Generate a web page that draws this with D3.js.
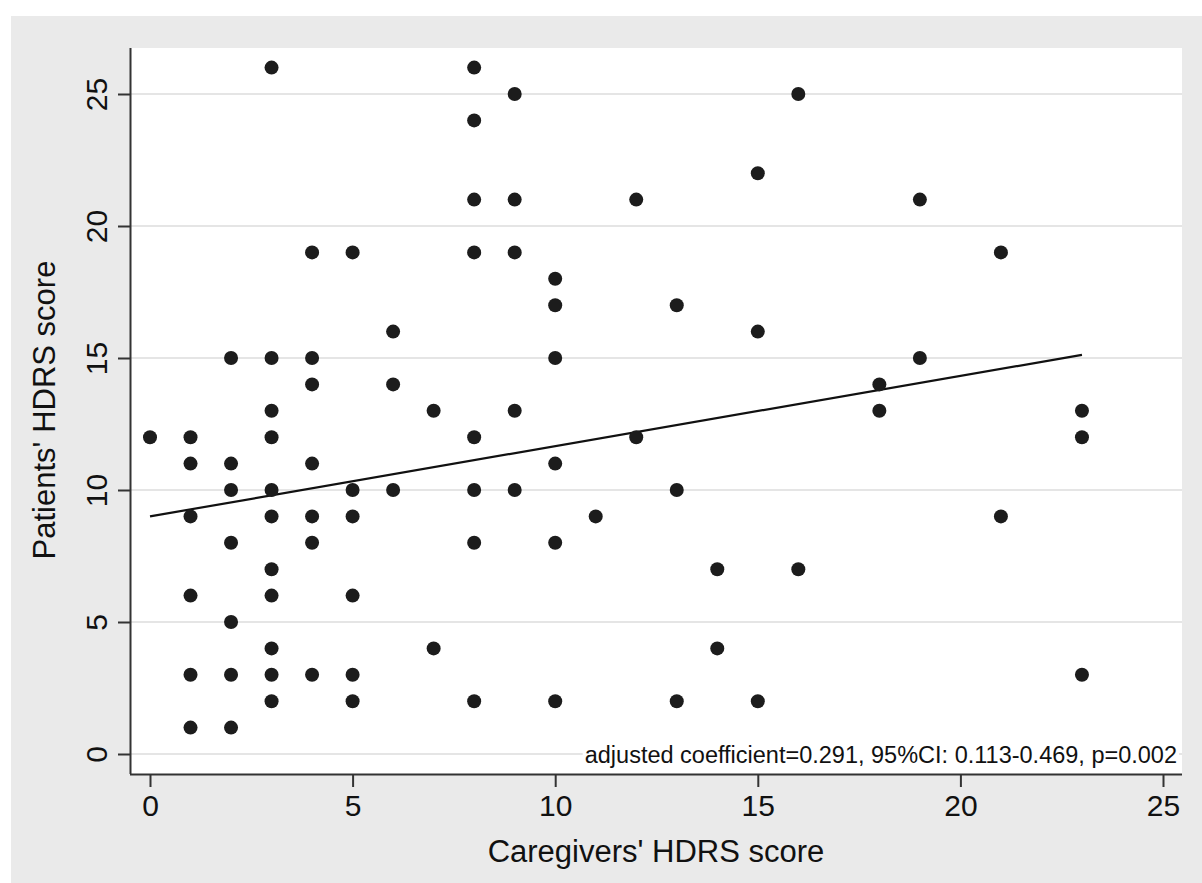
<!DOCTYPE html>
<html>
<head>
<meta charset="utf-8">
<script src="https://cdn.jsdelivr.net/npm/d3@7"></script>
<style>
  body { margin: 0; background: #fff; }
  svg { display: block; font-family: Arial, "Liberation Sans", sans-serif; }
</style>
</head>
<body>
<figure style="margin:0"></figure>
<script>
const width = 1202
const height = 883

// caregivers' score (x) and patients' score (y)
const caregivers = [0,
  1, 1, 1, 1, 1, 1,
  2, 2, 2, 2, 2, 2, 2,
  3, 3, 3, 3, 3, 3, 3, 3, 3, 3, 3,
  4, 4, 4, 4, 4, 4, 4,
  5, 5, 5, 5, 5, 5,
  6, 6, 6,
  7, 7,
  8, 8, 8, 8, 8, 8, 8, 8,
  9, 9, 9, 9, 9,
  10, 10, 10, 10, 10, 10,
  11,
  12, 12,
  13, 13, 13,
  14, 14,
  15, 15, 15,
  16, 16,
  18, 18,
  19, 19,
  21, 21,
  23, 23, 23]
const patients = [12,
  12, 11, 9, 6, 3, 1,
  15, 11, 10, 8, 5, 3, 1,
  26, 15, 13, 12, 10, 9, 7, 6, 4, 3, 2,
  19, 15, 14, 11, 9, 8, 3,
  19, 10, 9, 6, 3, 2,
  16, 14, 10,
  13, 4,
  26, 24, 21, 19, 12, 10, 8, 2,
  25, 21, 19, 13, 10,
  18, 17, 15, 11, 8, 2,
  9,
  21, 12,
  17, 10, 2,
  7, 4,
  22, 16, 2,
  25, 7,
  14, 13,
  21, 15,
  19, 9,
  13, 12, 3]

const xTicks = [0, 5, 10, 15, 20, 25]
const yTicks = [0, 5, 10, 15, 20, 25]

// fitted line
const fitX = [0, 23]
const fitY = [9.0, 15.12]

const note = 'adjusted coefficient=0.291, 95%CI: 0.113-0.469, p=0.002'

const points = caregivers.map((c, i) => ({ x: c, y: patients[i] }))

const plot = { left: 130, right: 1182, top: 48, bottom: 774 }

const svg = d3.select('figure').append('svg')
  .attr('width', width)
  .attr('height', height)

// outer grey panel
svg.append('rect')
  .attr('x', 11).attr('y', 16)
  .attr('width', width - 11).attr('height', height - 16)
  .attr('fill', '#eaeaea')

// plot region
svg.append('rect')
  .attr('x', plot.left).attr('y', plot.top)
  .attr('width', plot.right - plot.left).attr('height', plot.bottom - plot.top)
  .attr('fill', '#fff')

const x = d3.scaleLinear().domain([0, 25]).range([150, 1163])
const y = d3.scaleLinear().domain([0, 25]).range([754, 94])

// grid lines
svg.append('g')
  .selectAll('line')
  .data(yTicks)
  .join('line')
    .attr('x1', plot.left)
    .attr('x2', plot.right)
    .attr('y1', d => y(d))
    .attr('y2', d => y(d))
    .attr('stroke', '#dddddd')
    .attr('stroke-width', 1.5)

// axes
const xAxis = svg.append('g')
  .attr('transform', `translate(0, ${plot.bottom})`)
  .call(d3.axisBottom(x).tickValues(xTicks).tickSize(13).tickPadding(8).tickSizeOuter(0))
xAxis.select('.domain').attr('d', `M${plot.left},0.5H${plot.right}`)

const yAxis = svg.append('g')
  .attr('transform', `translate(${plot.left}, 0)`)
  .call(d3.axisLeft(y).tickValues(yTicks).tickSize(12).tickSizeOuter(0))
yAxis.select('.domain').attr('d', `M0.5,${plot.top}V${plot.bottom}`)

svg.selectAll('.domain, .tick line')
  .attr('stroke', '#333')
  .attr('stroke-width', 2)

xAxis.selectAll('.tick text')
  .attr('font-size', 30)
  .attr('fill', '#111')
  .attr('font-family', null)

yAxis.selectAll('.tick text')
  .attr('font-size', 30)
  .attr('fill', '#111')
  .attr('font-family', null)
  .attr('x', null).attr('dy', null)
  .attr('text-anchor', 'middle')
  .attr('transform', 'translate(-23,0) rotate(-90)')

// fitted line
svg.append('path')
  .datum(fitX.map((d, i) => ({ x: d, y: fitY[i] })))
  .attr('d', d3.line().x(d => x(d.x)).y(d => y(d.y)))
  .attr('fill', 'none')
  .attr('stroke', '#111')
  .attr('stroke-width', 2.2)

// points
svg.append('g')
  .selectAll('circle')
  .data(points)
  .join('circle')
    .attr('cx', d => x(d.x))
    .attr('cy', d => y(d.y))
    .attr('r', 7)
    .attr('fill', '#1c1c1c')

// note with white box behind
const noteG = svg.append('g')
const noteText = noteG.append('text')
  .attr('x', 1177)
  .attr('y', 763)
  .attr('text-anchor', 'end')
  .attr('font-size', 23.5)
  .attr('fill', '#111')
  .text(note)
const bb = noteText.node().getBBox()
noteG.insert('rect', 'text')
  .attr('x', bb.x - 2).attr('y', bb.y)
  .attr('width', bb.width + 4).attr('height', bb.height)
  .attr('fill', '#fff')

// axis titles
svg.append('text')
  .attr('x', 656)
  .attr('y', 862)
  .attr('text-anchor', 'middle')
  .attr('font-size', 31)
  .attr('fill', '#111')
  .text("Caregivers' HDRS score")

svg.append('text')
  .attr('transform', 'translate(55, 410) rotate(-90)')
  .attr('text-anchor', 'middle')
  .attr('font-size', 31)
  .attr('fill', '#111')
  .text("Patients' HDRS score")
</script>
</body>
</html>
